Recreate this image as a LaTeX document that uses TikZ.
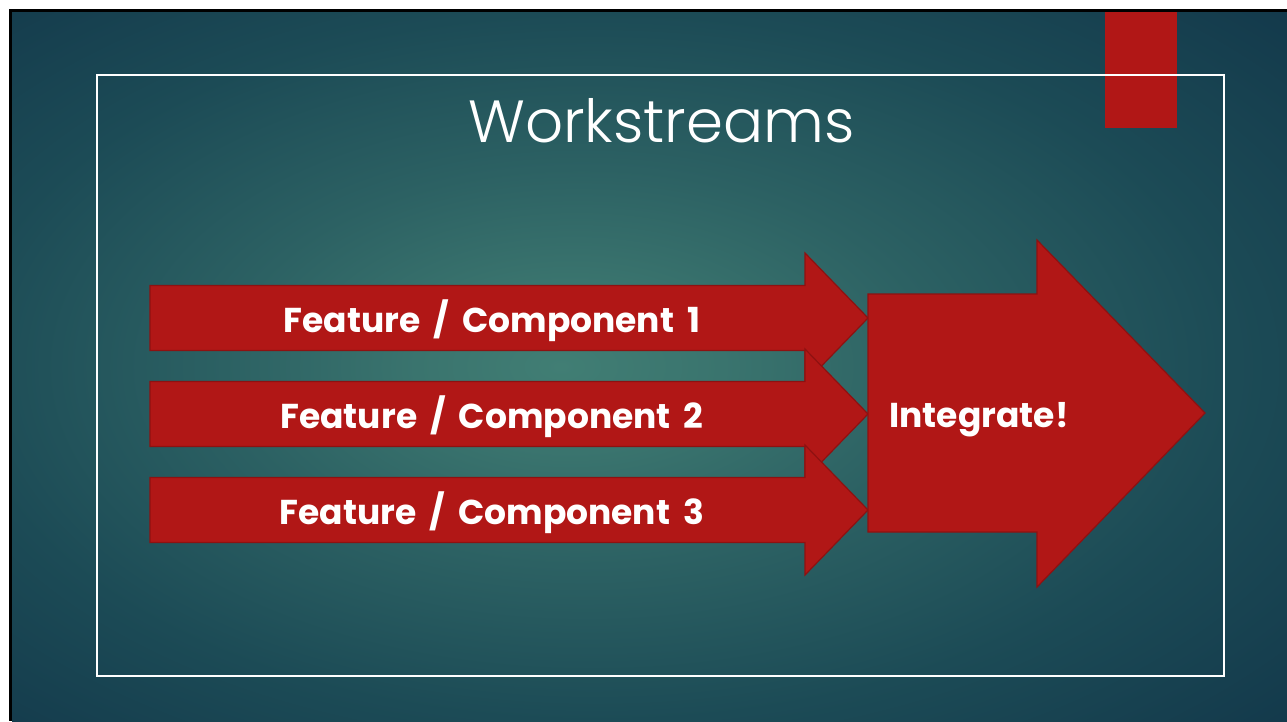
\documentclass[tikz,border=0pt]{standalone}
\usepackage{fontspec}
\setmainfont{Poppins}
\newfontfamily\titlefont{Poppins Light}
\newcommand\arrowlabelfont{\fontsize{34.5}{34.5}\selectfont\bfseries\spaceskip 13pt\relax}
\definecolor{bgA}{HTML}{417E74}
\definecolor{bgB}{HTML}{3A746E}
\definecolor{bgC}{HTML}{2C6163}
\definecolor{bgD}{HTML}{1C4B56}
\definecolor{bgE}{HTML}{12374A}
\definecolor{arrowred}{HTML}{B11716}
\definecolor{arrowline}{HTML}{8E1111}
\pgfdeclareradialshading{slidebg}{\pgfpoint{-3.5bp}{0bp}}{color(0bp)=(bgA); color(6bp)=(bgB); color(14bp)=(bgC); color(25bp)=(bgD); color(38bp)=(bgE); color(60bp)=(bgE)}
\tikzset{
  redshape/.style={fill=arrowred, draw=arrowline, line width=1.2pt, line join=miter},
  labeltext/.style={text=white, font=\arrowlabelfont, anchor=base, inner sep=0pt},
  titletext/.style={text=white, font=\titlefont\fontsize{59.5}{59.5}\selectfont, anchor=base, inner sep=0pt},
}
\begin{document}
\begin{tikzpicture}[x=1pt,y=-1pt]
\useasboundingbox (0,0) rectangle (1287,721);
\fill[white] (0,0) rectangle (1287,721);
\fill[black] (9,9) rectangle (1287,721);
\shade[shading=slidebg] (12,12) rectangle (1287,721);
% red accent
\fill[arrowred] (1105,12) rectangle (1177,128);
% frame
\draw[white, line width=2pt] (97,75) rectangle (1224,676);
% title
\node[titletext] (title) at (661.5,142) {Workstreams};
% three small arrows
\foreach \i/\yc in {1/318,2/414,3/510}{
  \path[redshape] (150,\yc-32.5) -- (805,\yc-32.5) -- (805,\yc-65) -- (868,\yc) -- (805,\yc+65) -- (805,\yc+32.5) -- (150,\yc+32.5) -- cycle;
}
\node[labeltext] (f1) at (492,332) {Feature / Component 1};
\node[labeltext] (f2) at (492,428) {Feature / Component 2};
\node[labeltext] (f3) at (492,524) {Feature / Component 3};
% big arrow
\path[redshape] (868,294) -- (1037,294) -- (1037,240) -- (1205,413) -- (1037,587) -- (1037,532) -- (868,532) -- cycle;
\node[labeltext] (integ) at (979,427) {Integrate!};
\end{tikzpicture}
\end{document}
